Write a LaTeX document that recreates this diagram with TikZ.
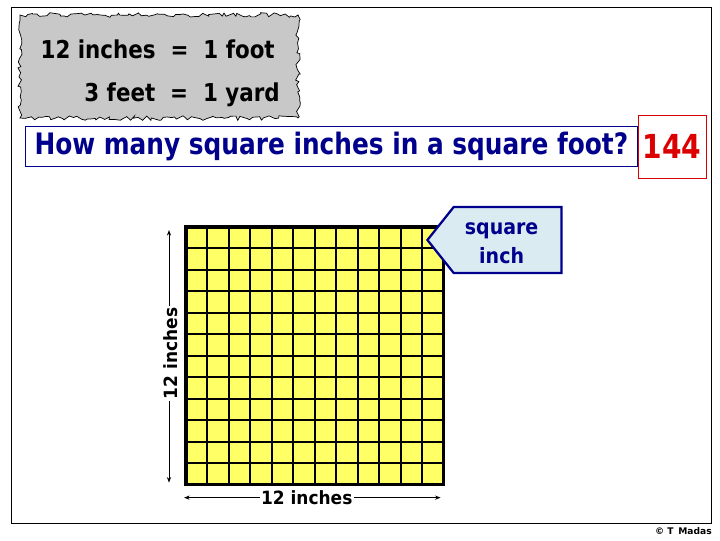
\documentclass[tikz,border=0pt]{standalone}
\usepackage{fontspec}
\setmainfont{DejaVu Sans}
\usepackage{graphicx}
\usepackage{tikz}
\usetikzlibrary{arrows.meta,positioning,calc,shapes.symbols,decorations.pathmorphing}
\definecolor{navy}{RGB}{0,0,140}
\definecolor{paleblue}{RGB}{218,236,242}
\definecolor{gridyellow}{RGB}{255,255,102}
\definecolor{torngray}{RGB}{200,200,200}
\definecolor{answerred}{RGB}{220,0,0}
\newcommand{\narrow}[2]{\scalebox{#1}[1]{#2}}

\begin{document}
\begin{tikzpicture}[
    x=0.025cm, y=-0.025cm,
    fact/.style={font=\bfseries\fontsize{17.5}{20}\selectfont, anchor=base east, inner sep=0pt},
    askbox/.style={draw=navy, fill=white, minimum width=15.3cm, minimum height=1cm, inner sep=0pt, text=navy, font=\bfseries\fontsize{21}{24}\selectfont},
    answerbox/.style={draw=answerred, fill=white, minimum width=1.7cm, minimum height=1.575cm, inner sep=0pt, text=answerred, font=\bfseries\fontsize{23.5}{26}\selectfont},
    gridline/.style={line width=1.4pt},
    dim/.style={{Stealth[length=4pt,width=3pt]}-{Stealth[length=4pt,width=3pt]}, line width=0.7pt},
    dimlabel/.style={fill=white, inner sep=1pt, font=\bfseries\fontsize{13}{15}\selectfont},
    callout/.style={signal, signal to=west, signal pointer angle=103, draw=navy, line width=1.6pt, fill=paleblue, minimum width=3.35cm, minimum height=1.65cm, inner sep=1pt, text=navy, font=\bfseries\fontsize{15}{17}\selectfont},
]
    \useasboundingbox (0,0) rectangle (720,540);
    \draw[line width=0.6pt] (11,7) rectangle (711,523);

    % torn paper with the two facts
    \pgfmathsetseed{11}
    \draw[fill=torngray, line width=0.5pt, decorate, decoration={random steps, segment length=2.5pt, amplitude=1.7pt}] (20,15) rectangle (298,118);
    \node[fact] (foot) at (275,58) {\narrow{0.87}{12 inches \ = \ 1 foot}};
    \node[fact] (yard) at (280,101) {\narrow{0.87}{3 feet \ = \ 1 yard}};

    \node[askbox, anchor=north west] (ask) at (25,126) {\narrow{0.84}{How many square inches in a square foot?}};
    \node[answerbox, right=0pt of ask] (answer) {\narrow{0.85}{144}};

    % the square foot
    \node[fill=gridyellow, minimum size=6.425cm, inner sep=0pt, anchor=north west] (sq) at (186,227) {};
    \foreach \k in {1,...,11} {
        \draw[gridline] ($(sq.north west)!\k/12!(sq.north east)$) -- ($(sq.south west)!\k/12!(sq.south east)$);
        \draw[gridline] ($(sq.north west)!\k/12!(sq.south west)$) -- ($(sq.north east)!\k/12!(sq.south east)$);
    }
    \draw[line width=2.2pt] (sq.north west) rectangle (sq.south east);

    \coordinate (vtop) at ($(sq.north west)+(-17,3)$);
    \coordinate (vbot) at ($(sq.south west)+(-17,-2)$);
    \draw[dim] (vtop) -- node[dimlabel, rotate=90, xshift=2pt, yshift=-1.5pt] (side) {\narrow{0.93}{12 inches}} (vbot);
    \coordinate (hleft) at ($(sq.south west)+(-2,13)$);
    \coordinate (hright) at ($(sq.south east)+(-3,13)$);
    \draw[dim] (hleft) -- node[dimlabel, xshift=-4pt] (base) {\narrow{0.93}{12 inches}} (hright);

    \node[callout, anchor=west] (unit) at (426,240) {\raisebox{-3pt}[\height][\depth]{\begin{tabular}{@{}c@{}}\narrow{0.9}{square}\\[3.5pt]\narrow{0.9}{inch}\end{tabular}}\hspace*{8.5pt}};

    \node[font=\bfseries\fontsize{6.5}{7}\selectfont, anchor=east, inner sep=0pt] (credit) at (712,531) {© T\, Madas};
\end{tikzpicture}
\end{document}
